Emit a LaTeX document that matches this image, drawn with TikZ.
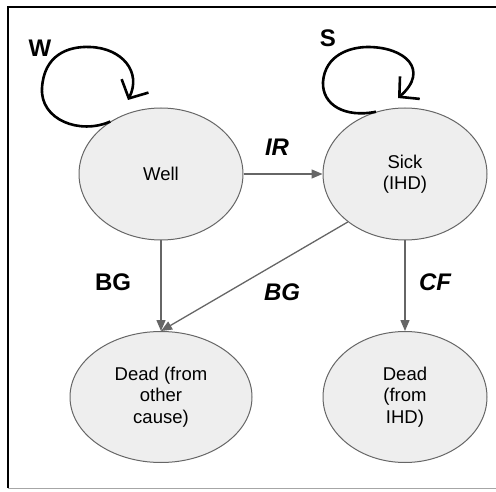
\documentclass[tikz,border=0pt]{standalone}
\usepackage{fontspec}
\setmainfont{Liberation Sans}
\usetikzlibrary{shapes.geometric,arrows.meta}
\definecolor{edgegray}{HTML}{666666}
\definecolor{statefill}{HTML}{EEEEEE}
\begin{document}
\begin{tikzpicture}[x=1pt,y=-1pt,
  state/.style={ellipse,draw=edgegray,fill=statefill,line width=1pt,inner sep=0pt,
    align=center,font=\fontsize{18.5}{21.5}\selectfont},
  trans/.style={draw=edgegray,line width=1.3pt,-{Triangle[length=11pt,width=9pt]}},
  loopline/.style={draw=black,line width=2.6pt,-{Straight Barb[length=14pt,width=30pt,line width=2.6pt]}},
  lbl/.style={font=\fontsize{24}{28}\selectfont\bfseries},
  ilbl/.style={font=\fontsize{24}{28}\selectfont\bfseries\itshape}]
\useasboundingbox (0,0) rectangle (496,492);
% frame
\draw[line width=2pt] (8,488) -- (8,7) -- (496,7);
\draw[gray!70,line width=1pt] (8,488) -- (496,488);
% states
\node[state,minimum width=164pt,minimum height=132pt] (well) at (161,174) {Well};
\node[state,minimum width=164pt,minimum height=132pt] (sick) at (405,174) {Sick\\(IHD)};
\node[state,minimum width=182pt,minimum height=131pt] (deado) at (161,397) {Dead (from\\other\\cause)};
\node[state,minimum width=164pt,minimum height=131pt] (deadi) at (405,397) {Dead\\(from\\IHD)};
% transitions
\draw[trans] (well.east) -- (sick.west);
\draw[trans] (well.south) -- (deado.north);
\draw[trans] (sick.220) -- (deado.north);
\draw[trans] (sick.south) -- (deadi.north);
% self loops
\coordinate (wtip) at (128,100);
\coordinate (stip) at (398,98);
\draw[loopline] (well.134) .. controls (80,135) and (40,120) .. (42,88)
  .. controls (44,55) and (68,46) .. (90,47)
  .. controls (122,48) and (142,72) .. (wtip);
\draw[loopline] (sick.115) .. controls (345,118) and (322,105) .. (323,82)
  .. controls (325,55) and (350,47) .. (368,47)
  .. controls (405,47) and (430,70) .. (stip);
% labels
\node[lbl] (lw) at (40,48) {W};
\node[lbl] (ls) at (328,38) {S};
\node[ilbl] (lir) at (277,147) {IR};
\node[lbl] (lbg1) at (113,282) {BG};
\node[ilbl] (lbg2) at (282,292) {BG};
\node[ilbl] (lcf) at (435,282) {CF};
\end{tikzpicture}
\end{document}
